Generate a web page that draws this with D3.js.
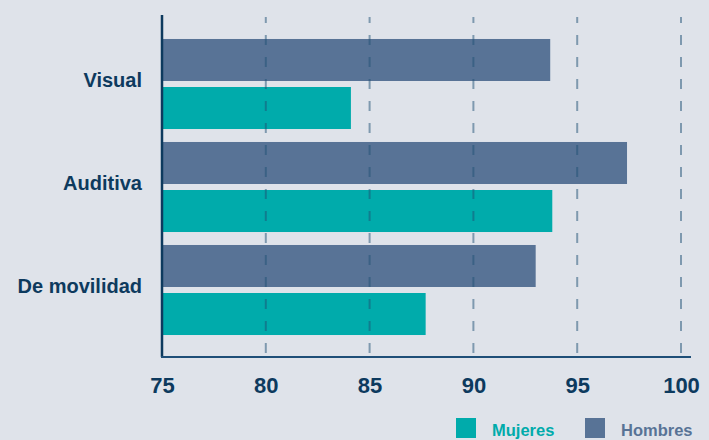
<!DOCTYPE html>
<html>
<head>
<meta charset="utf-8">
<script src="https://cdn.jsdelivr.net/npm/d3@7"></script>
<style>
  html, body { margin: 0; padding: 0; background: #dfe3ea; }
  svg { display: block; font-family: "Liberation Sans", Arial, sans-serif; }
</style>
</head>
<body>
<div id="chart"></div>
<script>
'use strict';

// ------------------------------------
// DATA
// ------------------------------------
const categories = ["Visual", "Auditiva", "De movilidad"];
const series = ["Hombres", "Mujeres"];
const hombres = [93.7, 97.4, 93.0];
const mujeres = [84.1, 93.8, 87.7];
const xTicks = [75, 80, 85, 90, 95, 100];

// ------------------------------------
// SETUP
// ------------------------------------
const width = 709;
const height = 440;

const color = d3.scaleOrdinal()
  .domain(series)
  .range(["#587396", "#00abab"]);

const navy = "#0d3a5e";

const rows = categories.map((c, i) => ({
  category: c,
  values: [
    { key: "Hombres", value: hombres[i] },
    { key: "Mujeres", value: mujeres[i] }
  ]
}));

const svg = d3.select("#chart")
  .append("svg")
  .attr("width", width)
  .attr("height", height);

svg.append("rect")
  .attr("width", width)
  .attr("height", height)
  .attr("fill", "#dfe3ea");

// Scales
const x = d3.scaleLinear().domain([75, 100]).range([162, 681]);

const y = d3.scaleBand()
  .domain(categories)
  .range([32.5, 341.5])
  .paddingInner(0.126)
  .paddingOuter(0.063);

const ySub = d3.scaleBand()
  .domain(series)
  .range([0, y.bandwidth()])
  .paddingInner(0.125);

// -----------------
// Bars
// -----------------
const groups = svg.append("g")
  .selectAll("g")
  .data(rows)
  .join("g")
  .attr("transform", d => `translate(0, ${y(d.category)})`);

groups.selectAll("rect")
  .data(d => d.values)
  .join("rect")
  .attr("x", x(75))
  .attr("y", d => ySub(d.key))
  .attr("width", d => x(d.value) - x(75))
  .attr("height", ySub.bandwidth())
  .attr("fill", d => color(d.key));

// -----------------
// Dashed gridlines (on top of bars)
// -----------------
svg.append("g")
  .selectAll("line")
  .data(xTicks.slice(1))
  .join("line")
  .attr("x1", d => x(d))
  .attr("x2", d => x(d))
  .attr("y1", 17)
  .attr("y2", 353)
  .attr("stroke", "#1d4f73")
  .attr("stroke-opacity", 0.5)
  .attr("stroke-width", 2)
  .attr("stroke-dasharray", "10,12")
  .attr("stroke-dashoffset", 4);

// -----------------
// Axes
// -----------------
svg.append("line")
  .attr("x1", 162).attr("x2", 162)
  .attr("y1", 15).attr("y2", 357)
  .attr("stroke", navy)
  .attr("stroke-width", 2.5);

svg.append("line")
  .attr("x1", 161).attr("x2", 691)
  .attr("y1", 357).attr("y2", 357)
  .attr("stroke", "#1f4f78")
  .attr("stroke-width", 2);

const xAxis = svg.append("g")
  .attr("transform", "translate(0, 357)")
  .call(d3.axisBottom(x).tickValues(xTicks).tickSize(0).tickPadding(20));

xAxis.select(".domain").remove();
xAxis.selectAll("text")
  .attr("fill", navy)
  .attr("font-size", 22)
  .attr("font-weight", "bold");

// Category labels
svg.append("g")
  .selectAll("text")
  .data(categories)
  .join("text")
  .attr("x", 142)
  .attr("y", d => y(d) + y.bandwidth() / 2 - 4)
  .attr("text-anchor", "end")
  .attr("dominant-baseline", "central")
  .attr("fill", navy)
  .attr("font-size", 20)
  .attr("font-weight", "bold")
  .text(d => d);

// -----------------
// Legend
// -----------------
const legendItems = [
  { key: "Mujeres", x: 456 },
  { key: "Hombres", x: 585 }
];

const legend = svg.append("g")
  .selectAll("g")
  .data(legendItems)
  .join("g")
  .attr("transform", d => `translate(${d.x}, 418)`);

legend.append("rect")
  .attr("width", 20)
  .attr("height", 20)
  .attr("fill", d => color(d.key));

legend.append("text")
  .attr("x", 36)
  .attr("y", 18)
  .attr("fill", d => color(d.key))
  .attr("font-size", 16.5)
  .attr("font-weight", "bold")
  .text(d => d.key);
</script>
</body>
</html>
